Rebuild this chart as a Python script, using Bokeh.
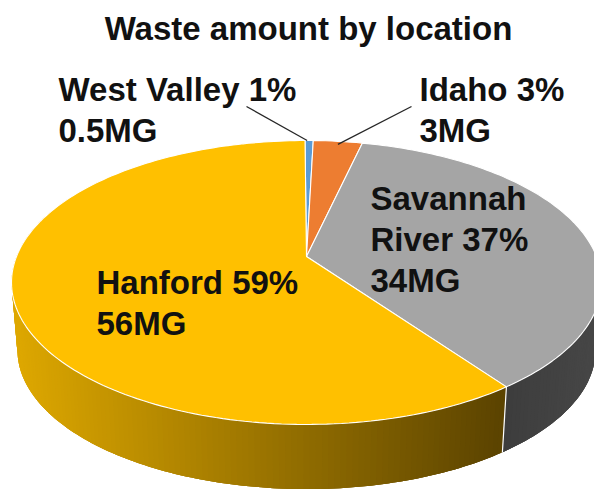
import numpy as np
from bokeh.plotting import figure
from bokeh.models import Range1d
from bokeh.core.properties import value
from bokeh.embed import file_html
from bokeh.resources import INLINE

title = "Waste amount by location"
locations = ["West Valley", "Idaho", "Savannah River", "Hanford"]
amounts_mg = [0.5, 3, 34, 56]
colors = ["#5B9BD5", "#ED7D31", "#A5A5A5", "#FFC000"]
label_lines = [["West Valley 1%", "0.5MG"], ["Idaho 3%", "3MG"],
               ["Savannah", "River 37%", "34MG"], ["Hanford 59%", "56MG"]]
label_x = [58, 419, 370, 96]
label_y0 = [102, 102, 211, 295]
line_gap = 41

W, H = 594, 492
CX, CY, A, B, K = 306, 256, 290, 137.2, 0.183
DEPTH, SHRINK = 68, 0.98
START = -0.006
TEXT_SHIFT = -13

def rim(theta, bottom=False):
    u, v = np.sin(theta), np.cos(theta)
    w = 1 + K * v
    s = SHRINK if bottom else 1.0
    return CX + s * A * u / w, CY - s * B * v / w + (DEPTH if bottom else 0)

fractions = np.array(amounts_mg) / sum(amounts_mg)
edges = START + 2 * np.pi * np.concatenate([[0], np.cumsum(fractions)])

p = figure(width=W, height=H, output_backend="svg", toolbar_location=None,
           x_range=Range1d(0, W), y_range=Range1d(H, 0), min_border=0,
           x_axis_type=None, y_axis_type=None, outline_line_color=None,
           background_fill_color="white", border_fill_color="white")
p.grid.visible = False
p.styles = {"position": "absolute", "left": "0px", "top": "0px"}

def mix(c1, c2, t):
    return "#%02x%02x%02x" % tuple(int(round(a + (b - a) * t)) for a, b in zip(c1, c2))

# side wall, drawn as overlapping strips so that the shade runs along the rim
GOLD_L, GOLD_R = (222, 168, 0), (92, 68, 0)
GREY_L, GREY_R = (60, 60, 60), (70, 70, 70)
wall = np.linspace(np.pi / 2, 3 * np.pi / 2 + 0.35, 200)
step = wall[1] - wall[0]

def draw_wall(a_from, a_to, colour_at):
    """Strips painted from the far end inwards, each reaching under its neighbour."""
    angles = wall[(wall >= a_from - step) & (wall <= a_to + step)]
    for a0 in angles:
        a1 = min(a0 + 3 * step, a_to)
        a0c = max(a0, a_from)
        if a1 <= a0c:
            continue
        th = np.linspace(a0c, a1, 4)
        xt, yt = rim(th)
        xb, yb = rim(th, True)
        p.patch(np.r_[xt, xb[::-1]], np.r_[yt, yb[::-1]], fill_color=colour_at(rim(a0c)[0]),
                line_color=None)

draw_wall(np.pi / 2, edges[3], lambda x: mix(GREY_L, GREY_R, np.clip((x - 500) / 94, 0, 1)))
draw_wall(edges[3], wall[-1], lambda x: mix(GOLD_L, GOLD_R, np.clip((x - 12) / 490, 0, 1)))

# white seam at the front edge of the two walls
xs, ys = rim(edges[3]); xe, ye = rim(edges[3], True)
p.line([xs, xe], [ys, ye], line_color="white", line_width=1.2)

# top face
for i, c in enumerate(colors):
    th = np.linspace(edges[i], edges[i + 1], max(4, int(fractions[i] * 300)))
    x, y = rim(th)
    p.patch(np.r_[CX, x], np.r_[CY, y], fill_color=c, line_color="white", line_width=1.1)

# leader lines, from the label to the slice
for i, (lx, ly, dx, dy) in zip([0, 1], [(246, 106, -2, 0), (411, 106, 0, 3)]):
    mid = (edges[i] + edges[i + 1]) / 2
    x, y = rim(np.array([mid]))
    p.line([lx, x[0] + dx], [ly, y[0] + dy], line_color="#262626", line_width=1.3)

font = value("Liberation Sans")
p.text([CX + 2], [41], text=[title], y_offset=TEXT_SHIFT, text_font=font, text_font_size="33px",
       text_font_style="bold", text_align="center", text_baseline="alphabetic", text_color="#111111")
for lines, lx, ly in zip(label_lines, label_x, label_y0):
    for j, t in enumerate(lines):
        p.text([lx], [ly + j * line_gap], text=[t], y_offset=TEXT_SHIFT, text_font=font,
               text_font_size="33px", text_font_style="bold", text_align="left",
               text_baseline="alphabetic", text_color="#111111")

open("out.html", "w").write(file_html(p, INLINE))
